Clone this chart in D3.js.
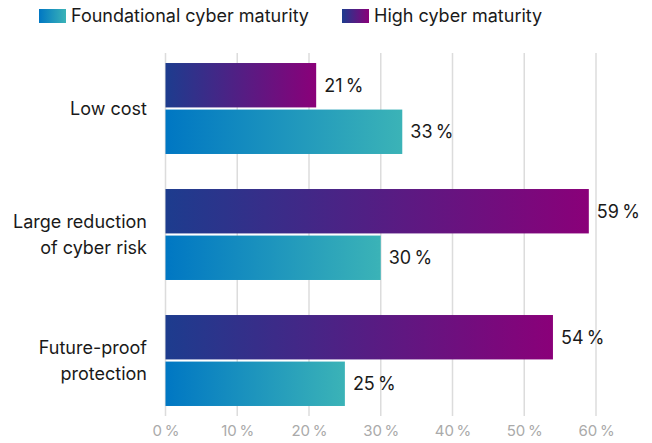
<!DOCTYPE html>
<html>
<head>
<meta charset="utf-8">
<script src="https://cdn.jsdelivr.net/npm/d3@7"></script>
<style>
    body { margin: 0; background: #fff; }
    text { font-family: Inter, "Noto Sans", sans-serif; }
</style>
</head>
<body>
<div id="chart"></div>
<script>
// chart data
var categories = ["Low cost", "Large reduction\nof cyber risk", "Future-proof\nprotection"];
var seriesNames = ["High cyber maturity", "Foundational cyber maturity"];
var highValues = [21, 59, 54];
var foundationalValues = [33, 30, 25];
var tickValues = [0, 10, 20, 30, 40, 50, 60];

window.onload = function() {
    barchart();
};

function barchart() {
    var width = 652;
    var height = 443;
    var padding = {top: 53, bottom: 27, left: 165.5, right: 56};

    var svg = d3.select("#chart").append("svg")
        .attr("width", width)
        .attr("height", height);

    // gradients
    var defs = svg.append("defs");
    var grads = [
        {id: "gradHigh", from: "#1d3c8e", to: "#8a0079"},
        {id: "gradFound", from: "#0077c3", to: "#3bb3b7"}
    ];
    grads.forEach(function(g) {
        var lg = defs.append("linearGradient").attr("id", g.id)
            .attr("x1", "0%").attr("x2", "100%").attr("y1", "0%").attr("y2", "0%");
        lg.append("stop").attr("offset", "0%").attr("stop-color", g.from);
        lg.append("stop").attr("offset", "100%").attr("stop-color", g.to);
    });

    // scales
    var xscale = d3.scaleLinear()
        .domain([0, 60])
        .range([padding.left, 596]);

    var yscale = d3.scaleBand()
        .domain(categories)
        .range([45.5, 423.5])
        .paddingInner(0.278)
        .paddingOuter(0.139);

    var inner = d3.scaleBand()
        .domain(seriesNames)
        .range([0, yscale.bandwidth()])
        .paddingInner(0.046);

    // gridlines
    svg.selectAll(".grid").data(tickValues).enter().append("line")
        .attr("class", "grid")
        .attr("x1", function(d) { return xscale(d); })
        .attr("x2", function(d) { return xscale(d); })
        .attr("y1", padding.top)
        .attr("y2", height - padding.bottom)
        .attr("stroke", "#dcdcdc")
        .attr("stroke-width", 1.5);

    // x axis labels
    var xaxis = d3.axisBottom(xscale)
        .tickValues(tickValues)
        .tickSize(0)
        .tickPadding(0)
        .tickFormat(function(d) { return d + "\u2009%"; });
    var gx = svg.append("g")
        .attr("transform", "translate(0," + (height - 7) + ")")
        .call(xaxis);
    gx.select(".domain").remove();
    gx.selectAll("text")
        .attr("fill", "#aaaaaa")
        .attr("dy", "0")
        .style("font-size", "15px")
        .style("font-family", "Inter, sans-serif");

    // bars
    var rows = [];
    categories.forEach(function(c, i) {
        rows.push({cat: c, series: seriesNames[0], value: highValues[i], fill: "url(#gradHigh)"});
        rows.push({cat: c, series: seriesNames[1], value: foundationalValues[i], fill: "url(#gradFound)"});
    });

    svg.selectAll(".bar").data(rows).enter().append("rect")
        .attr("class", "bar")
        .attr("x", xscale(0))
        .attr("y", function(d) { return yscale(d.cat) + inner(d.series); })
        .attr("width", function(d) { return xscale(d.value) - xscale(0); })
        .attr("height", inner.bandwidth())
        .attr("fill", function(d) { return d.fill; });

    // value labels
    svg.selectAll(".val").data(rows).enter().append("text")
        .attr("class", "val")
        .attr("x", function(d) { return xscale(d.value) + 8; })
        .attr("y", function(d) { return yscale(d.cat) + inner(d.series) + inner.bandwidth() / 2; })
        .attr("dy", "0.35em")
        .attr("fill", "#1a1a1a")
        .style("font-size", "18px")
        .text(function(d) { return d.value + "\u2009%"; });

    // category labels
    categories.forEach(function(c) {
        var lines = c.split("\n");
        var cy = yscale(c) + yscale.bandwidth() / 2;
        var lh = 26;
        var t = svg.append("text")
            .attr("text-anchor", "end")
            .attr("fill", "#1a1a1a")
            .style("font-size", "18px");
        lines.forEach(function(l, j) {
            t.append("tspan")
                .attr("x", 147)
                .attr("y", cy + (j - (lines.length - 1) / 2) * lh)
                .attr("dy", "0.35em")
                .text(l);
        });
    });

    // legend
    var legend = [
        {name: "Foundational cyber maturity", fill: "url(#gradFound)", x: 39},
        {name: "High cyber maturity", fill: "url(#gradHigh)", x: 342}
    ];
    var lg = svg.selectAll(".legend").data(legend).enter().append("g")
        .attr("class", "legend")
        .attr("transform", function(d) { return "translate(" + d.x + ",9)"; });
    lg.append("rect")
        .attr("width", 27)
        .attr("height", 14)
        .attr("fill", function(d) { return d.fill; });
    lg.append("text")
        .attr("x", 32)
        .attr("y", 7)
        .attr("dy", "0.35em")
        .attr("fill", "#1a1a1a")
        .style("font-size", "18px")
        .text(function(d) { return d.name; });
}
</script>
</body>
</html>
